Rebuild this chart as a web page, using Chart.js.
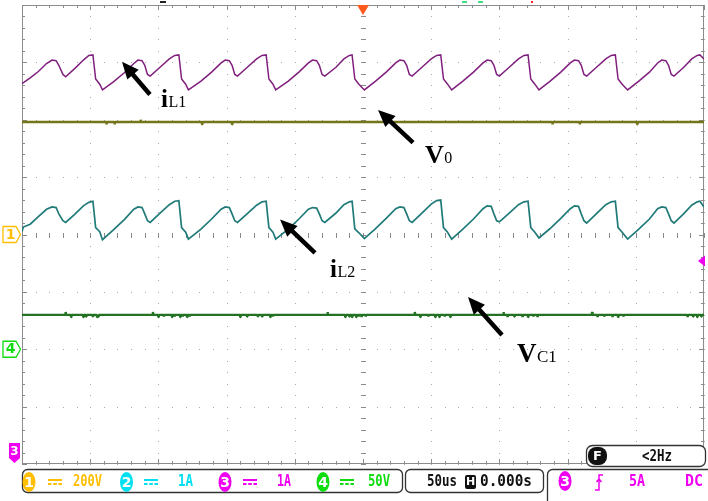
<!DOCTYPE html>
<html>
<head>
<meta charset="utf-8">
<script src="https://cdn.jsdelivr.net/npm/chart.js@4.4.0/dist/chart.umd.min.js"></script>
<style>
    html, body { margin: 0; padding: 0; background: #fff; }
    canvas { display: block; }
</style>
</head>
<body>
<canvas id="scope" width="708" height="501"></canvas>
<script>
// horizontal: 50us/div, 10 divs; vertical: screen divisions, 8 divs
const timeMajor = [-250, -200, -150, -100, -50, 0, 50, 100, 150, 200, 250];
const divMajor = [-4, -3, -2, -1, 0, 1, 2, 3, 4];

// inductor current iL1 (purple trace), [time us, div]
const iL1 = [
    [-250, 2.63], [-244, 2.73], [-238, 2.84], [-232, 2.98], [-228, 3.04], [-225, 3.03], [-223, 2.95], [-220, 2.79], [-218, 2.75],
    [-211, 2.90], [-205, 3.04], [-201, 3.12], [-198, 3.13], [-196, 2.71], [-193, 2.62], [-191, 2.52],
    [-183, 2.66], [-175, 2.82], [-168, 2.98], [-165, 3.04], [-162, 3.03], [-160, 2.95], [-158, 2.79], [-156, 2.76],
    [-149, 2.91], [-142, 3.06], [-138, 3.12], [-135, 3.13], [-133, 2.71], [-130, 2.62], [-128, 2.52],
    [-119, 2.67], [-111, 2.83], [-104, 2.99], [-101, 3.04], [-98, 3.03], [-96, 2.95], [-94, 2.79], [-92, 2.76],
    [-85, 2.91], [-78, 3.06], [-74, 3.12], [-71, 3.13], [-69, 2.71], [-66, 2.62], [-64, 2.52],
    [-55, 2.67], [-47, 2.83], [-40, 2.99], [-37, 3.04], [-34, 3.03], [-32, 2.95], [-30, 2.79], [-28, 2.76],
    [-20, 2.91], [-14, 3.06], [-10, 3.12], [-8, 3.13], [-6, 2.71], [-3, 2.62], [1, 2.52],
    [9, 2.67], [17, 2.83], [24, 2.99], [27, 3.04], [30, 3.03], [32, 2.95], [34, 2.79], [36, 2.76],
    [43, 2.91], [50, 3.06], [54, 3.12], [57, 3.13], [59, 2.71], [62, 2.62], [65, 2.52],
    [73, 2.67], [81, 2.83], [88, 2.99], [91, 3.04], [94, 3.03], [96, 2.95], [98, 2.79], [100, 2.76],
    [107, 2.91], [114, 3.06], [118, 3.12], [121, 3.13], [123, 2.71], [126, 2.62], [129, 2.52],
    [137, 2.67], [145, 2.83], [152, 2.99], [155, 3.04], [158, 3.03], [160, 2.95], [162, 2.79], [164, 2.76],
    [171, 2.91], [178, 3.06], [182, 3.12], [185, 3.13], [187, 2.71], [190, 2.62], [194, 2.52],
    [202, 2.67], [210, 2.83], [216, 2.99], [219, 3.04], [222, 3.03], [224, 2.95], [226, 2.79], [228, 2.76],
    [235, 2.91], [241, 3.06], [245, 3.12], [247, 3.13], [250, 3.06]
];

// inductor current iL2 (teal trace)
const iL2 = [
    [-250, 0.05], [-249, 0.13], [-244, 0.18], [-238, 0.31], [-232, 0.44], [-228, 0.48], [-225, 0.47], [-223, 0.36], [-220, 0.24], [-218, 0.21],
    [-211, 0.36], [-205, 0.50], [-201, 0.56], [-198, 0.58], [-196, 0.12], [-193, 0.05], [-191, -0.09],
    [-183, 0.08], [-175, 0.26], [-168, 0.44], [-165, 0.48], [-162, 0.47], [-160, 0.36], [-158, 0.24], [-156, 0.21],
    [-149, 0.37], [-142, 0.52], [-138, 0.58], [-135, 0.59], [-133, 0.12], [-130, 0.04], [-128, -0.08],
    [-119, 0.09], [-111, 0.27], [-104, 0.44], [-101, 0.48], [-98, 0.47], [-96, 0.36], [-94, 0.24], [-92, 0.21],
    [-85, 0.36], [-78, 0.51], [-74, 0.57], [-71, 0.58], [-69, 0.12], [-66, 0.04], [-64, -0.08],
    [-55, 0.09], [-47, 0.27], [-40, 0.44], [-37, 0.47], [-34, 0.46], [-32, 0.36], [-30, 0.24], [-28, 0.21],
    [-20, 0.37], [-14, 0.52], [-10, 0.57], [-8, 0.58], [-6, 0.10], [-3, 0.03], [1, -0.07],
    [9, 0.10], [17, 0.28], [24, 0.45], [27, 0.48], [30, 0.47], [32, 0.36], [34, 0.24], [36, 0.21],
    [43, 0.37], [50, 0.53], [54, 0.59], [57, 0.60], [59, 0.12], [62, 0.04], [65, -0.08],
    [73, 0.09], [81, 0.27], [88, 0.45], [91, 0.50], [94, 0.49], [96, 0.36], [98, 0.24], [100, 0.22],
    [107, 0.37], [114, 0.52], [118, 0.57], [121, 0.58], [123, 0.12], [126, 0.04], [129, -0.06],
    [137, 0.10], [145, 0.28], [152, 0.45], [155, 0.50], [158, 0.49], [160, 0.36], [162, 0.24], [164, 0.20],
    [171, 0.36], [178, 0.52], [182, 0.57], [185, 0.58], [187, 0.12], [190, 0.04], [194, -0.08],
    [202, 0.09], [210, 0.27], [216, 0.45], [219, 0.48], [222, 0.47], [224, 0.36], [226, 0.24], [228, 0.20],
    [235, 0.36], [241, 0.51], [245, 0.57], [247, 0.58], [250, 0.48]
];

// output voltage V0 (olive) and capacitor voltage VC1 (green): flat level + small glitches [time, offset]
const v0Level = 1.96;
const v0Spikes = [[-188, -0.04], [-182, -0.04], [-163, 0.04], [-118, -0.04], [-96, -0.04], [139, -0.04], [159, -0.04], [201, -0.04]];
const vc1Level = -1.40;
const vc1Spikes = [
    [-218, 0.05], [-214, -0.04], [-205, -0.04], [-203, -0.03], [-198, -0.04], [-195, -0.04], [-194, -0.03],
    [-154, 0.05], [-150, -0.04], [-146, -0.03], [-140, -0.04], [-138, -0.03], [-134, -0.04], [-132, -0.03], [-129, -0.04], [-127, -0.03],
    [-90, -0.04], [-85, -0.03], [-77, -0.04], [-74, -0.03], [-68, -0.04], [-66, -0.03],
    [-26, 0.05], [-13, -0.04], [-10, -0.03], [-8, -0.04], [-5, -0.04], [-3, -0.03], [-1, -0.04], [2, -0.03],
    [38, 0.05], [42, -0.04], [48, -0.03], [53, -0.04], [56, -0.04], [60, -0.03], [64, -0.04],
    [103, 0.05], [106, -0.04], [111, -0.03], [117, -0.04], [121, -0.04], [125, -0.03], [128, -0.04],
    [168, 0.05], [172, -0.04], [177, -0.03], [183, -0.04], [187, -0.04], [191, -0.03],
    [238, -0.04], [242, -0.03], [245, -0.04], [248, -0.03]
];

// status bar readings
const chScales = ["200V", "1A", "1A", "50V"];
const timebase = "50us";
const hDelay = "0.000s";
const trigInfo = ["5A", "DC"];
const trigFreq = "<2Hz";

const colors = {
    iL1: "#80207e",
    iL2: "#207a78",
    v0: "#747418",
    vc1: "#237223",
    ch1: "#ffbf00",
    ch2: "#00e0f0",
    ch3: "#f000f0",
    ch4: "#10dd10"
};

// arrows + labels, in data units
const callouts = [
    { main: "i", sub: "L1", tip: [-176.7, 3.01], tail: [-156.2, 2.44], at: [-148.1, 2.23], size: 25, subSize: 16 },
    { main: "V", sub: "0", tip: [11.0, 2.17], tail: [36.7, 1.60], at: [45.5, 1.25], size: 26, subSize: 16 },
    { main: "i", sub: "L2", tip: [-60.8, 0.26], tail: [-35.2, -0.32], at: [-24.2, -0.74], size: 25, subSize: 16 },
    { main: "V", sub: "C1", tip: [77.0, -1.09], tail: [101.9, -1.75], at: [112.9, -2.22], size: 27, subSize: 17 }
];

function toPoints(arr) {
    return arr.map(function (p) { return { x: p[0], y: p[1] }; });
}

function flatTrace(level, spikes) {
    const pts = [{ x: -250, y: level }];
    spikes.slice().sort(function (a, b) { return a[0] - b[0]; }).forEach(function (s) {
        pts.push({ x: s[0] - 0.3, y: level }, { x: s[0], y: level + s[1] }, { x: s[0] + 0.3, y: level });
    });
    pts.push({ x: 250, y: level });
    return pts;
}

const scopeGrid = {
    id: "scopeGrid",
    beforeDatasetsDraw(chart) {
        const ctx = chart.ctx, a = chart.chartArea;
        const xs = chart.scales.x, ys = chart.scales.y;
        const cx = Math.round(xs.getPixelForValue(0)), cy = Math.round(ys.getPixelForValue(0));
        ctx.save();
        ctx.fillStyle = "#a8a8a8";
        // dotted major lines
        timeMajor.forEach(function (t) {
            const px = Math.round(xs.getPixelForValue(t));
            for (let k = -20; k <= 20; k++) {
                ctx.fillRect(px, Math.round(ys.getPixelForValue(k / 5)), 1, 1);
            }
        });
        divMajor.forEach(function (d) {
            const py = Math.round(ys.getPixelForValue(d));
            for (let k = -25; k <= 25; k++) {
                ctx.fillRect(Math.round(xs.getPixelForValue(k * 10)), py, 1, 1);
            }
        });
        // centre crosshair ticks
        ctx.fillStyle = "#8a8a8a";
        for (let k = -25; k <= 25; k++) {
            ctx.fillRect(Math.round(xs.getPixelForValue(k * 10)), cy - 2, 1, 5);
        }
        for (let k = -20; k <= 20; k++) {
            ctx.fillRect(cx - 2, Math.round(ys.getPixelForValue(k / 5)), 5, 1);
        }
        // frame + edge ticks
        ctx.strokeStyle = "#8c8c8c";
        ctx.lineWidth = 1;
        ctx.strokeRect(a.left + 0.5, a.top + 0.5, a.right - a.left - 1, a.bottom - a.top - 1);
        ctx.fillStyle = "#8a8a8a";
        for (let k = -25; k <= 25; k++) {
            const px = Math.round(xs.getPixelForValue(k * 10));
            const len = k % 5 === 0 ? 5 : 3;
            ctx.fillRect(px, a.top, 1, len);
            ctx.fillRect(px, a.bottom - len, 1, len);
        }
        for (let k = -20; k <= 20; k++) {
            const py = Math.round(ys.getPixelForValue(k / 5));
            const len = k % 5 === 0 ? 5 : 3;
            ctx.fillRect(a.left, py, len, 1);
            ctx.fillRect(a.right - len, py, len, 1);
        }
        ctx.restore();
    }
};

function drawArrow(ctx, x0, y0, x1, y1) {
    const ang = Math.atan2(y1 - y0, x1 - x0);
    const head = 17, half = 7.5;
    const bx = x1 - head * Math.cos(ang), by = y1 - head * Math.sin(ang);
    ctx.strokeStyle = "#000";
    ctx.fillStyle = "#000";
    ctx.lineWidth = 4.5;
    ctx.beginPath();
    ctx.moveTo(x0, y0);
    ctx.lineTo(bx + 2 * Math.cos(ang), by + 2 * Math.sin(ang));
    ctx.stroke();
    ctx.beginPath();
    ctx.moveTo(x1, y1);
    ctx.lineTo(bx + half * Math.sin(ang), by - half * Math.cos(ang));
    ctx.lineTo(bx - half * Math.sin(ang), by + half * Math.cos(ang));
    ctx.closePath();
    ctx.fill();
}

function chanTag(ctx, y, label, color) {
    ctx.beginPath();
    ctx.moveTo(3, y - 8);
    ctx.lineTo(16, y - 8);
    ctx.lineTo(20.5, y);
    ctx.lineTo(16, y + 8);
    ctx.lineTo(3, y + 8);
    ctx.closePath();
    ctx.lineWidth = 1.3;
    ctx.strokeStyle = color;
    ctx.fillStyle = "#fff";
    ctx.fill();
    ctx.stroke();
    ctx.fillStyle = color;
    ctx.font = "bold 14px 'DejaVu Sans'";
    ctx.textAlign = "center";
    ctx.textBaseline = "middle";
    ctx.fillText(label, 10.5, y + 0.5);
}

function barText(ctx, str, x, y, w, color) {
    ctx.save();
    ctx.font = "bold 15px 'DejaVu Sans Mono'";
    ctx.textAlign = "left";
    ctx.textBaseline = "middle";
    const natural = ctx.measureText(str).width;
    ctx.translate(x, y);
    ctx.scale(w / natural, 1);
    ctx.fillStyle = color;
    ctx.fillText(str, 0, 0);
    ctx.restore();
}

function badge(ctx, cx, cy, label, color) {
    ctx.save();
    ctx.fillStyle = color;
    ctx.beginPath();
    ctx.ellipse(cx, cy, 6.5, 10, 0, 0, Math.PI * 2);
    ctx.fill();
    ctx.fillStyle = "#fff";
    ctx.font = "bold 14px 'DejaVu Sans'";
    ctx.textAlign = "center";
    ctx.textBaseline = "middle";
    ctx.fillText(label, cx, cy + 1);
    ctx.restore();
}

function coupling(ctx, x, y, color) {
    ctx.fillStyle = color;
    ctx.fillRect(x, y - 3, 14, 2);
    ctx.fillRect(x, y + 1, 3.5, 2);
    ctx.fillRect(x + 5.25, y + 1, 3.5, 2);
    ctx.fillRect(x + 10.5, y + 1, 3.5, 2);
}

const scopeDecor = {
    id: "scopeDecor",
    afterDraw(chart) {
        const ctx = chart.ctx, a = chart.chartArea;
        const xs = chart.scales.x, ys = chart.scales.y;
        const px = function (t) { return xs.getPixelForValue(t); };
        const py = function (v) { return ys.getPixelForValue(v); };
        ctx.save();

        // tiny status marks above the graticule
        ctx.fillStyle = "#222";
        ctx.fillRect(160, 1, 6, 2);
        ctx.fillStyle = "#40e080";
        ctx.fillRect(462, 1, 5, 2);
        ctx.fillRect(478, 1, 5, 2);
        ctx.fillStyle = "#ff2020";
        ctx.fillRect(531, 1, 2, 2);

        // trigger position
        const tx = px(0);
        ctx.fillStyle = "#ff5a1e";
        ctx.beginPath();
        ctx.moveTo(tx - 6, a.top);
        ctx.lineTo(tx + 6, a.top);
        ctx.lineTo(tx, a.top + 10);
        ctx.closePath();
        ctx.fill();

        // trigger level on right edge
        const ty = py(-0.46);
        ctx.fillStyle = colors.ch3;
        ctx.beginPath();
        ctx.moveTo(a.right + 1, ty - 5.5);
        ctx.lineTo(a.right + 1, ty + 5.5);
        ctx.lineTo(a.right - 6, ty);
        ctx.closePath();
        ctx.fill();

        // channel ground tags
        chanTag(ctx, py(0), "1", colors.ch1);
        chanTag(ctx, py(-2), "4", colors.ch4);
        ctx.beginPath();
        ctx.moveTo(9, 443);
        ctx.lineTo(20, 443);
        ctx.lineTo(20, 458);
        ctx.lineTo(14.5, 463);
        ctx.lineTo(9, 458);
        ctx.closePath();
        ctx.fillStyle = colors.ch3;
        ctx.fill();
        ctx.fillStyle = "#fff";
        ctx.font = "bold 12px 'DejaVu Sans'";
        ctx.textAlign = "center";
        ctx.textBaseline = "middle";
        ctx.fillText("3", 14.5, 452);

        // callout arrows and labels
        callouts.forEach(function (c) {
            drawArrow(ctx, px(c.tail[0]), py(c.tail[1]), px(c.tip[0]), py(c.tip[1]));
            const lx = px(c.at[0]), ly = py(c.at[1]);
            ctx.fillStyle = "#000";
            ctx.textAlign = "left";
            ctx.textBaseline = "alphabetic";
            ctx.font = "bold " + c.size + "px 'Liberation Serif'";
            ctx.fillText(c.main, lx, ly);
            const w = ctx.measureText(c.main).width;
            ctx.font = c.subSize + "px 'Liberation Serif'";
            ctx.fillText(c.sub, lx + w + 0.5, ly);
        });

        // trigger frequency box
        ctx.lineWidth = 1.3;
        ctx.strokeStyle = "#333";
        ctx.fillStyle = "#fff";
        ctx.beginPath();
        ctx.roundRect(586.5, 445.5, 119, 21, 6);
        ctx.fill();
        ctx.stroke();
        ctx.fillStyle = "#111";
        ctx.beginPath();
        ctx.roundRect(588, 447, 19, 18, 8);
        ctx.fill();
        ctx.fillStyle = "#fff";
        ctx.font = "bold 13px 'DejaVu Sans'";
        ctx.textAlign = "center";
        ctx.textBaseline = "middle";
        ctx.fillText("F", 597.5, 456.5);
        barText(ctx, trigFreq, 642, 457, 30, "#111");

        // bottom status bar
        const by = 482;
        ctx.strokeStyle = "#333";
        ctx.lineWidth = 1.3;
        ctx.beginPath();
        ctx.roundRect(22.5, 469.5, 380, 23, 5);
        ctx.stroke();
        ctx.beginPath();
        ctx.roundRect(405.5, 469.5, 138, 23, 5);
        ctx.stroke();
        ctx.beginPath();
        ctx.moveTo(547.5, 503);
        ctx.lineTo(547.5, 475);
        ctx.arcTo(547.5, 469.5, 553, 469.5, 5);
        ctx.lineTo(710, 469.5);
        ctx.stroke();

        const chCols = [colors.ch1, colors.ch2, colors.ch3, colors.ch4];
        const badgeX = [29, 126.5, 225, 323];
        const coupleX = [48, 144, 243, 340];
        const textX = [73, 178, 277, 368];
        const textW = [29, 15, 14, 22];
        for (let i = 0; i < 4; i++) {
            badge(ctx, badgeX[i], by, String(i + 1), chCols[i]);
            coupling(ctx, coupleX[i], by, chCols[i]);
            barText(ctx, chScales[i], textX[i], by, textW[i], chCols[i]);
        }

        barText(ctx, timebase, 427, by, 30, "#111");
        ctx.fillStyle = "#111";
        ctx.beginPath();
        ctx.roundRect(465, 475, 11, 14, 2);
        ctx.fill();
        ctx.fillStyle = "#fff";
        ctx.font = "bold 11px 'DejaVu Sans'";
        ctx.textAlign = "center";
        ctx.textBaseline = "middle";
        ctx.fillText("H", 470.5, by + 0.5);
        barText(ctx, hDelay, 480, by, 52, "#111");

        badge(ctx, 565, by - 1, "3", colors.ch3);
        // rising edge symbol
        ctx.strokeStyle = colors.ch3;
        ctx.lineWidth = 1.5;
        ctx.beginPath();
        ctx.moveTo(595, 490);
        ctx.lineTo(599, 490);
        ctx.lineTo(599, 475);
        ctx.lineTo(603, 475);
        ctx.moveTo(596.5, 482);
        ctx.lineTo(599, 479);
        ctx.lineTo(601.5, 482);
        ctx.stroke();
        barText(ctx, trigInfo[0], 629, by, 16, colors.ch3);
        barText(ctx, trigInfo[1], 685, by, 18, colors.ch3);

        ctx.restore();
    }
};

new Chart(document.getElementById("scope"), {
    type: "line",
    data: {
        datasets: [
            { label: "VC1", data: flatTrace(vc1Level, vc1Spikes), borderColor: colors.vc1, borderWidth: 2.4, borderJoinStyle: "bevel" },
            { label: "V0", data: flatTrace(v0Level, v0Spikes), borderColor: colors.v0, borderWidth: 2.4, borderJoinStyle: "bevel" },
            { label: "iL2", data: toPoints(iL2), borderColor: colors.iL2, borderWidth: 1.7 },
            { label: "iL1", data: toPoints(iL1), borderColor: colors.iL1, borderWidth: 1.5 }
        ]
    },
    options: {
        responsive: false,
        animation: false,
        layout: { padding: { left: 22, top: 5, right: 4, bottom: 37 } },
        elements: {
            point: { radius: 0, hoverRadius: 0 },
            line: { tension: 0, fill: false }
        },
        scales: {
            x: { type: "linear", min: -250, max: 250, display: false },
            y: { type: "linear", min: -4, max: 4, display: false }
        },
        plugins: {
            legend: { display: false },
            tooltip: { enabled: false }
        }
    },
    plugins: [scopeGrid, scopeDecor]
});
</script>
</body>
</html>
